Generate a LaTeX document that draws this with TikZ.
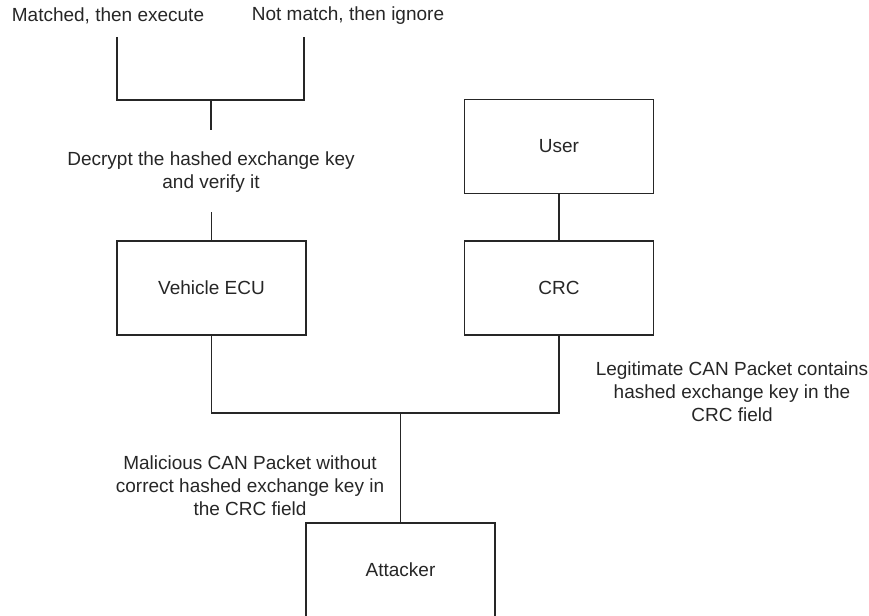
\documentclass[tikz,border=0pt]{standalone}
\usepackage{fontspec}
\setmainfont{Liberation Sans}
\usetikzlibrary{positioning}
\tikzset{
  box/.style={draw, minimum width=189pt, minimum height=94pt, inner sep=0pt,
    font=\fontsize{19}{23}\selectfont},
  txt/.style={align=center, inner sep=0pt, font=\fontsize{19}{23}\selectfont}
}
\begin{document}
\begin{tikzpicture}[x=1pt, y=-1pt, line width=1.1pt, color={black!85}]
\useasboundingbox (0,0) rectangle (869,615);
% top labels and the bracket
\node[txt] (matched) at (108,16) {Matched, then execute};
\node[txt] (notmatch) at (348,16) {Not match, then ignore};
\coordinate (mtop) at (117,37);
\coordinate (ntop) at (304,37);
\coordinate (split) at (211,100);
\coordinate (stem) at (211,130);
\draw (mtop) |- (split) -| (ntop);
\draw (split) -- (stem);
\node[txt] (decrypt) at (211,172) {Decrypt the hashed exchange key\\and verify it};
% boxes
\node[box] (ecu) at (211.5,288) {Vehicle ECU};
\node[box] (user) at (559,146.5) {User};
\node[box] (crc) at (559,288) {CRC};
\node[box] (attacker) at (400.5,570) {Attacker};
\coordinate (ecutop) at (211.5,212);
\draw (ecutop) -- (ecu.north);
\draw (user) -- (crc);
% bus
\coordinate (bus) at (400.5,413);
\draw (ecu.south) |- (bus) -| (crc.south);
\draw (bus) -- (attacker.north);
\node[txt] (legit) at (732,391.5) {Legitimate CAN Packet contains\\hashed exchange key in the\\CRC field};
\node[txt] (malicious) at (250,486) {Malicious CAN Packet without\\correct hashed exchange key in\\the CRC field};
\end{tikzpicture}
\end{document}
